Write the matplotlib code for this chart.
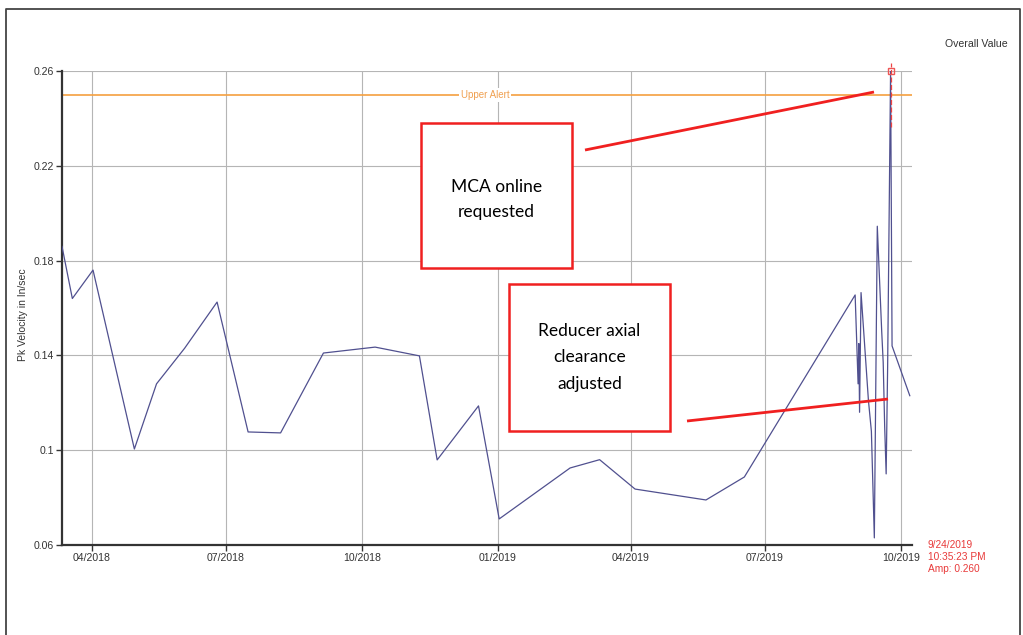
import matplotlib
matplotlib.use("Agg")
import matplotlib.pyplot as plt
import matplotlib.dates as mdates
import matplotlib.transforms as mtransforms
from matplotlib.patches import Rectangle
from matplotlib.lines import Line2D
import pandas as pd

# Overall velocity trend readings
dates = [
    "2018-03-12", "2018-03-19", "2018-04-02", "2018-04-30", "2018-05-15",
    "2018-06-03", "2018-06-25", "2018-07-16", "2018-08-07", "2018-09-05",
    "2018-10-10", "2018-11-09", "2018-11-21", "2018-12-19", "2019-01-02",
    "2019-02-19", "2019-03-11", "2019-04-04", "2019-05-22", "2019-06-17",
    "2019-08-31", "2019-09-01", "2019-09-02", "2019-09-02 12:00", "2019-09-03",
    "2019-09-04", "2019-09-09", "2019-09-11", "2019-09-13", "2019-09-15",
    "2019-09-18", "2019-09-19", "2019-09-20", "2019-09-21", "2019-09-22",
    "2019-09-24", "2019-09-25", "2019-10-07",
]
velocity = [
    0.186, 0.164, 0.176, 0.1005, 0.128,
    0.143, 0.1625, 0.1077, 0.1073, 0.141,
    0.1435, 0.1398, 0.0959, 0.1187, 0.071,
    0.0925, 0.096, 0.0836, 0.079, 0.0887,
    0.1655, 0.147, 0.128, 0.145, 0.116,
    0.1665, 0.121, 0.108, 0.063, 0.1945,
    0.150, 0.137, 0.110, 0.090, 0.135,
    0.260, 0.144, 0.123,
]
upper_alert = 0.25
y_ticks = [0.06, 0.1, 0.14, 0.18, 0.22, 0.26]
y_tick_labels = ["0.06", "0.1", "0.14", "0.18", "0.22", "0.26"]
x_tick_dates = ["2018-04-01", "2018-07-01", "2018-10-01", "2019-01-01",
                "2019-04-01", "2019-07-01", "2019-10-01"]
cursor_date = "2019-09-24"
cursor_amp = 0.260
cursor_label = "9/24/2019\n10:35:23 PM\nAmp: 0.260"
note_top = "MCA online\nrequested"
note_bottom = "Reducer axial\nclearance\nadjusted"

t = pd.to_datetime(dates, format="mixed")
xt = pd.to_datetime(x_tick_dates)
cd = pd.Timestamp(cursor_date)

plt.rcParams["font.family"] = ["Liberation Sans", "DejaVu Sans"]

fig = plt.figure(figsize=(10.23, 6.35), dpi=100)
fig.patch.set_facecolor("white")

# page frame (open at the bottom)
frame = Line2D([6 / 1023, 6 / 1023, 1020 / 1023, 1020 / 1023],
               [-0.05, 1 - 9 / 635, 1 - 9 / 635, -0.05],
               transform=fig.transFigure, color="#444444", lw=1.3)
fig.add_artist(frame)

ax = fig.add_axes([62 / 1023, 1 - 545 / 635, 850 / 1023, 474 / 635])

ax.plot(t, velocity, color="#50508f", lw=0.9, zorder=3)

ax.set_xlim(pd.Timestamp("2018-03-12"), pd.Timestamp("2019-10-08 12:00"))
ax.set_ylim(0.06, 0.26)

ax.set_yticks(y_ticks)
ax.set_yticklabels(y_tick_labels)
ax.set_xticks(xt)
ax.xaxis.set_major_formatter(mdates.DateFormatter("%m/%Y"))
ax.tick_params(axis="both", labelsize=7.6, colors="#333333", length=4, width=1,
               direction="out", pad=2)
ax.grid(True, color="#b5b5b5", lw=0.8)
ax.set_axisbelow(True)

for side in ("top", "right"):
    ax.spines[side].set_visible(False)
for side in ("left", "bottom"):
    ax.spines[side].set_color("#333333")
    ax.spines[side].set_linewidth(1.6)

ax.set_ylabel("Pk Velocity in In/sec", fontsize=7.5, color="#333333")
ax.yaxis.set_label_coords(-0.040, 0.485)

# alert level
ax.axhline(upper_alert, color="#f5a040", lw=1.2, zorder=2)
trans = mtransforms.blended_transform_factory(ax.transAxes, ax.transData)
ax.text(0.4976, upper_alert, "Upper Alert", transform=trans, fontsize=7,
        color="#f0a050", ha="center", va="center", zorder=3,
        bbox=dict(facecolor="white", edgecolor="none", pad=1.5))

# cursor
ax.plot([cd, cd], [0.2365, 0.2635], color="#ee4444", lw=0.9, ls=(0, (4, 2)),
        zorder=4, clip_on=False)
ax.plot([cd], [cursor_amp], marker="s", ms=5, mfc="none", mec="#ee5555",
        mew=1, zorder=5, clip_on=False)
fig.text(928 / 1023, 1 - 557 / 635, cursor_label, fontsize=7.3,
         color="#e83a3a", ha="left", va="center", linespacing=1.25)

fig.text(1008 / 1023, 1 - 44 / 635, "Overall Value", fontsize=7.6,
         color="#333333", ha="right", va="center")

# annotation boxes
red = "#f02020"
ax.add_patch(Rectangle((0.4224, 0.5844), 0.1776, 0.3059, transform=ax.transAxes,
                       fill=True, facecolor="white", edgecolor=red, lw=1.8,
                       zorder=6))
ax.text(0.5112, 0.729, note_top, transform=ax.transAxes, fontsize=12.5,
        family=["Lato", "DejaVu Sans"], ha="center", va="center",
        linespacing=1.7, color="black", zorder=7)

ax.add_patch(Rectangle((0.5259, 0.2405), 0.1894, 0.3101, transform=ax.transAxes,
                       fill=True, facecolor="white", edgecolor=red, lw=1.8,
                       zorder=6))
ax.text(0.6206, 0.3956, note_bottom, transform=ax.transAxes, fontsize=12.5,
        family=["Lato", "DejaVu Sans"], ha="center", va="center",
        linespacing=1.8, color="black", zorder=7)

ax.plot([0.6153, 0.9553], [0.8333, 0.9557], transform=ax.transAxes,
        color=red, lw=2, zorder=6, solid_capstyle="butt")
ax.plot([0.7353, 0.9718], [0.2616, 0.3080], transform=ax.transAxes,
        color=red, lw=2, zorder=6, solid_capstyle="butt")

fig.savefig("out.png", dpi=100, facecolor="white")
